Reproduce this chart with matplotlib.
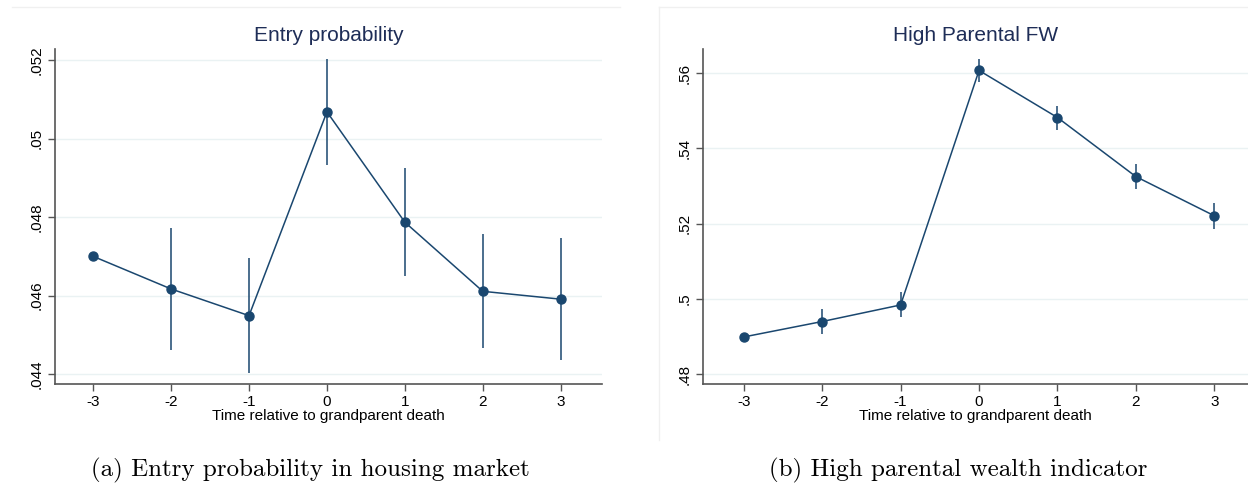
import matplotlib
matplotlib.use("Agg")
import matplotlib.pyplot as plt
from matplotlib.lines import Line2D
from matplotlib.ticker import FixedLocator, FuncFormatter

# ---- data ----
periods = [-3, -2, -1, 0, 1, 2, 3]

entry_est = [0.0470, 0.04617, 0.04549, 0.05068, 0.04787, 0.04611, 0.04591]
entry_lo = [0.0470, 0.04462, 0.04402, 0.04933, 0.04651, 0.04466, 0.04436]
entry_hi = [0.0470, 0.04771, 0.04696, 0.05203, 0.04925, 0.04757, 0.04748]

fw_est = [0.4899, 0.4940, 0.4984, 0.5607, 0.5482, 0.5325, 0.5221]
fw_lo = [0.4899, 0.4906, 0.4952, 0.5577, 0.5450, 0.5293, 0.5185]
fw_hi = [0.4899, 0.4974, 0.5018, 0.5638, 0.5513, 0.5359, 0.5256]

entry_ticks = [0.044, 0.046, 0.048, 0.050, 0.052]
fw_ticks = [0.48, 0.50, 0.52, 0.54, 0.56]

titles = ["Entry probability", "High Parental FW"]
xlabel = "Time relative to grandparent death"
captions = ["(a) Entry probability in housing market", "(b) High parental wealth indicator"]

NAVY = "#1a476f"
TITLE_C = "#1e2d57"
GRID_C = "#eaf2f3"
AX_C = "#555555"

W, H = 1248, 486
fig = plt.figure(figsize=(W / 100, H / 100), dpi=100)
fig.patch.set_facecolor("white")

def px_axes(x0, x1, ytop, ybot):
    return fig.add_axes([x0 / W, 1 - ybot / H, (x1 - x0) / W, (ybot - ytop) / H])

def stata_fmt(v, pos):
    s = ("%.3f" % v).rstrip("0").rstrip(".")
    if s.startswith("0."):
        s = s[1:]
    return s

def draw(ax, est, lo, hi, ticks, ylim, xlim, title):
    ax.set_facecolor("white")
    for t in ticks:
        ax.axhline(t, color=GRID_C, lw=1.0, zorder=0)
    yerr = [[e - l for e, l in zip(est, lo)], [h - e for e, h in zip(est, hi)]]
    ax.errorbar(periods, est, yerr=yerr, fmt="none", ecolor=NAVY, elinewidth=1.1, capsize=0, zorder=2)
    ax.plot(periods, est, color=NAVY, lw=1.1, marker="o", ms=6.5, mfc=NAVY, mec=NAVY, zorder=3)
    ax.set_xlim(*xlim)
    ax.set_ylim(*ylim)
    ax.set_xticks(periods)
    ax.set_xticklabels([str(p) for p in periods], fontsize=11, family="Liberation Sans")
    ax.yaxis.set_major_locator(FixedLocator(ticks))
    ax.yaxis.set_major_formatter(FuncFormatter(stata_fmt))
    for lab in ax.get_yticklabels():
        lab.set_rotation(90)
        lab.set_va("center")
        lab.set_fontsize(11)
        lab.set_family("Liberation Sans")
    ax.tick_params(axis="both", direction="out", length=5, width=1, color=AX_C, pad=3)
    for s in ["top", "right"]:
        ax.spines[s].set_visible(False)
    for s in ["left", "bottom"]:
        ax.spines[s].set_color(AX_C)
        ax.spines[s].set_linewidth(1.2)
    ax.set_xlabel(xlabel, fontsize=11, family="Liberation Sans", labelpad=0)
    ax.set_title(title, fontsize=15, color=TITLE_C, family="Liberation Sans", pad=6)

ax1 = px_axes(55, 602, 49, 384)
draw(ax1, entry_est, entry_lo, entry_hi, entry_ticks, (0.04375, 0.05228), (-3.49, 3.53), titles[0])

ax2 = px_axes(703, 1248, 49, 384)
draw(ax2, fw_est, fw_lo, fw_hi, fw_ticks, (0.4774, 0.5664), (-3.52, 3.43), titles[1])

# faint graph-region borders
fig.add_artist(Line2D([12 / W, 620 / W], [1 - 7 / H, 1 - 7 / H], color="#f0f0f0", lw=1))
fig.add_artist(Line2D([659 / W, 1248 / W], [1 - 7 / H, 1 - 7 / H], color="#f0f0f0", lw=1))
fig.add_artist(Line2D([659 / W, 659 / W], [1 - 7 / H, 1 - 440 / H], color="#f0f0f0", lw=1))

fig.text(310 / W, 1 - 476 / H, captions[0], ha="center", va="baseline", fontsize=18, family="cmr10")
fig.text(958 / W, 1 - 476 / H, captions[1], ha="center", va="baseline", fontsize=18, family="cmr10")

fig.savefig("out.png", dpi=100, facecolor="white")
